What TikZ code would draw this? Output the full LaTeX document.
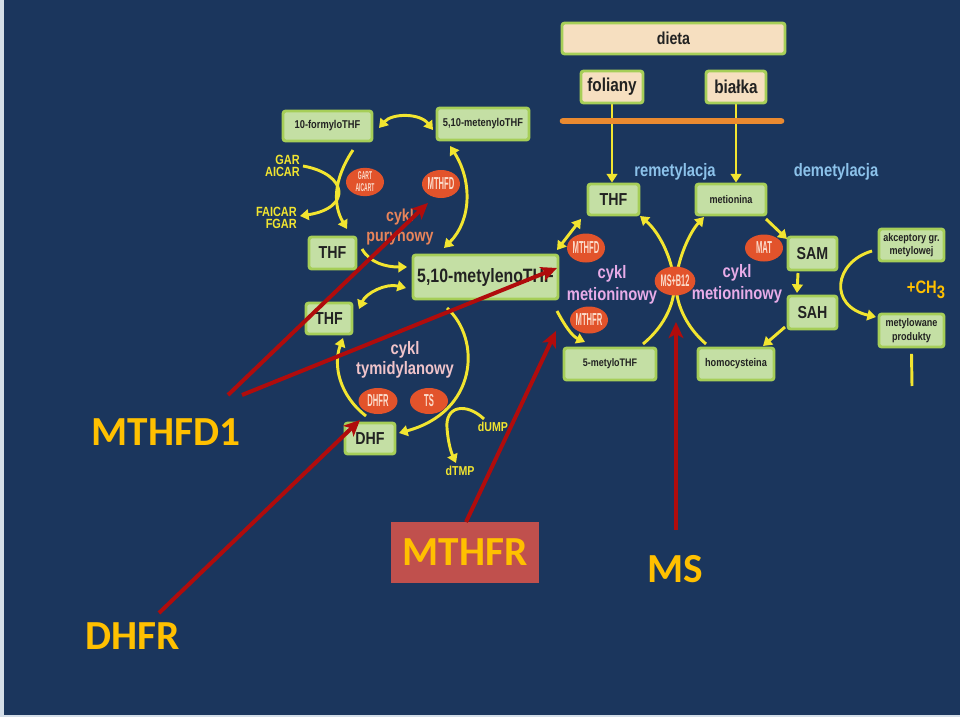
\documentclass[tikz,border=0pt]{standalone}
\usepackage{fontspec}
\setmainfont{Liberation Sans}
\newfontfamily\nar{Liberation Sans}[FakeStretch=0.82]
\newfontfamily\unar{Liberation Sans}[FakeStretch=0.44]
\newfontfamily\calib{Carlito}
\usetikzlibrary{arrows.meta,shapes.geometric}
\definecolor{bg}{HTML}{1B365D}
\definecolor{edgew}{HTML}{D4DEE8}
\definecolor{gfill}{HTML}{C4DFA4}
\definecolor{gedge}{HTML}{A6CE58}
\definecolor{beige}{HTML}{F6DFC0}
\definecolor{ylw}{HTML}{F2E530}
\definecolor{enz}{HTML}{E2532B}
\definecolor{enztxt}{HTML}{FBDCCB}
\definecolor{dred}{HTML}{B00C0C}
\definecolor{gold}{HTML}{FFC000}
\definecolor{lblue}{HTML}{8CC2EA}
\definecolor{lav}{HTML}{E8ACE8}
\definecolor{salmon}{HTML}{E8845A}
\definecolor{pinkt}{HTML}{F0C4CA}
\definecolor{orline}{HTML}{EA8A30}
\definecolor{boxred}{HTML}{C0504D}
\definecolor{dtext}{HTML}{222222}
\pgfdeclarelayer{back}
\pgfdeclarelayer{curves}
\pgfsetlayers{back,curves,main}
\tikzset{
  sz/.style n args={2}{minimum width=#1*0.75pt, minimum height=#2*0.75pt},
  nf/.style n args={2}{font=\nar\bfseries\fontsize{#1}{#2}\selectfont},
  uf/.style n args={2}{font=\unar\bfseries\fontsize{#1}{#2}\selectfont},
  gbox/.style={draw=gedge, line width=2.2pt, fill=gfill, rounded corners=2pt,
    inner sep=0pt, text=dtext, align=center},
  bbox/.style={gbox, fill=beige},
  enzyme/.style={ellipse, fill=enz, inner sep=0pt, text=enztxt, align=center},
  yline/.style={draw=ylw, line width=2.2pt},
  yarr/.style={yline, -{Triangle[width=8pt,length=6.5pt]}},
  ydbl/.style={yline, {Triangle[width=8pt,length=6.5pt]}-{Triangle[width=8pt,length=6.5pt]}},
  rarr/.style={draw=dred, line width=3pt, -{Stealth[length=12pt,width=11pt,inset=3pt]}},
  lbl/.style={inner sep=0pt, align=center},
  big/.style={inner sep=0pt, font=\calib\bfseries\fontsize{31}{33}\selectfont, text=gold}
}
\begin{document}
\begin{tikzpicture}[x=0.75pt,y=-0.75pt]
\useasboundingbox (0,0) rectangle (960,717);
\begin{pgfonlayer}{back}
\fill[bg] (0,0) rectangle (960,717);
\fill[edgew] (0,0) rectangle (4,717);
\fill[edgew] (0,715) rectangle (960,717);
\end{pgfonlayer}

% ---- diet part
\node[bbox, sz={223}{31}, nf={13}{15}] (dieta) at (673.5,38.5) {dieta};
\node[bbox, sz={62}{32}, nf={14}{16}] (foliany) at (612,87) {foliany};
\node[bbox, sz={60}{32}, nf={14}{16}] (bialka) at (736,87) {białka};
\coordinate (olA) at (563,121);
\coordinate (olB) at (781,121);
\draw[orline, line width=5pt, line cap=round] (olA) -- (olB);

% ---- right boxes
\node[gbox, sz={51}{31}, nf={13}{15}] (THFr) at (613.5,199.5) {THF};
\node[gbox, sz={70}{31}, nf={8.3}{10}] (metionina) at (731,199.5) {metionina};
\node[gbox, sz={49}{33}, nf={13}{15}] (SAM) at (812.5,253.5) {SAM};
\node[gbox, sz={49}{33}, nf={13}{15}] (SAH) at (812.5,312.5) {SAH};
\node[gbox, sz={65}{32}, nf={8.3}{10}] (akc) at (911.5,245) {akceptory gr.\\ metylowej};
\node[gbox, sz={65}{33}, nf={8.3}{10}] (mprod) at (911.5,330.5) {metylowane\\ produkty};
\node[gbox, sz={92}{32}, nf={8.2}{10}] (mTHF) at (610,364) {5-metyloTHF};
\node[gbox, sz={76}{32}, nf={8.4}{10}] (homo) at (736,364) {homocysteina};

% ---- left boxes
\node[gbox, sz={89}{30}, nf={8.5}{10}] (formyl) at (327.5,126) {10-formyloTHF};
\node[gbox, sz={92}{32}, nf={8.5}{10}] (metenyl) at (483,124) {5,10-metenyloTHF};
\node[gbox, sz={47}{32}, nf={13}{15}] (THFa) at (332.5,253) {THF};
\node[gbox, sz={46}{31}, nf={13}{15}] (THFb) at (329,318.5) {THF};
\node[gbox, sz={145}{44}, nf={14.5}{16}] (metylen) at (485.5,277) {5,10-metylenoTHF};
\node[gbox, sz={50}{31}, nf={13}{15}] (DHF) at (370,438.5) {DHF};

% ---- yellow connectors
\begin{pgfonlayer}{curves}
\draw[yarr] (foliany.south) -- (foliany.south |- THFr.north);
\draw[yarr] (bialka.south) -- (bialka.south |- metionina.north);
% left cycle
\coordinate (fa) at (379,128); \coordinate (fb) at (433,130);
\draw[ydbl] (fa) .. controls (392,113) and (420,113) .. (fb);
\coordinate (ma) at (450,146); \coordinate (mb) at (444,248);
\draw[ydbl] (ma) .. controls (472,180) and (472,220) .. (mb);
\coordinate (fta) at (353,150); \coordinate (ftb) at (347,229);
\draw[yarr] (fta) .. controls (333,180) and (333,205) .. (ftb);
\coordinate (gA) at (303,166); \coordinate (gB) at (300,216);
\draw[yarr] (gA) .. controls (348,174) and (352,208) .. (gB);
\coordinate (tma) at (362,249); \coordinate (tmb) at (407,267);
\draw[yarr] (tma) .. controls (370,263) and (386,267) .. (tmb);
\coordinate (mta) at (406,288); \coordinate (mtb) at (359,309);
\draw[ydbl] (mta) .. controls (386,283) and (366,293) .. (mtb);
\coordinate (tya) at (447,308); \coordinate (tyb) at (399,433);
\draw[yarr] (tya) .. controls (482,340) and (477,412) .. (tyb);
\coordinate (dha) at (366,416); \coordinate (dhb) at (343,338);
\draw[yarr] (dha) .. controls (339,395) and (333,365) .. (dhb);
\coordinate (dua) at (484,419); \coordinate (dub) at (456,463);
\draw[yarr] (dua) .. controls (466,402) and (445,406) .. (447,428) .. controls (448,442) and (451,452) .. (dub);
% right cycle
\coordinate (rta) at (581,219); \coordinate (rtb) at (557,250);
\draw[ydbl] (rta) -- (rtb);
\coordinate (rma) at (557,311); \coordinate (rmb) at (585,342);
\draw[yarr] (rma) .. controls (565,326) and (572,336) .. (rmb);
\coordinate (msa) at (643,344); \coordinate (msb) at (640,216);
\draw[yarr] (msa) .. controls (666,325) and (676,300) .. (674,281) .. controls (672,258) and (659,232) .. (msb);
\coordinate (msc) at (706,344); \coordinate (msd) at (704,217);
\draw[yarr] (msc) .. controls (684,325) and (675,300) .. (676,281) .. controls (678,258) and (690,232) .. (msd);
\coordinate (sa) at (766,219); \coordinate (sb) at (787,239);
\draw[yarr] (sa) -- (sb);
\coordinate (sc) at (798,273); \coordinate (sd) at (797,293);
\draw[yarr] (sc) -- (sd);
\coordinate (se) at (785,327); \coordinate (sf) at (763,346);
\draw[yarr] (se) -- (sf);
\coordinate (aa) at (872,251); \coordinate (ab) at (876,317);
\draw[yarr] (aa) .. controls (834,262) and (828,306) .. (ab);
\coordinate (vl) at (912,386);
\draw[yline] ([yshift=-4pt]mprod.south) -- (vl);
\end{pgfonlayer}

% ---- enzymes
\node[enzyme, sz={38}{27}, uf={8.5}{9}] (gart) at (365,182) {GART\\AICART};
\node[enzyme, sz={38}{28}, uf={13}{14}] (mthfdL) at (441,184) {MTHFD};
\node[enzyme, sz={39}{26}, uf={13}{14}] (dhfrE) at (378,401) {DHFR};
\node[enzyme, sz={38}{26}, uf={13}{14}] (ts) at (429,401) {TS};
\node[enzyme, sz={38}{29}, uf={13}{14}] (mthfdR) at (586,248) {MTHFD};
\node[enzyme, sz={38}{27}, uf={13}{14}] (mthfrR) at (589,320) {MTHFR};
\node[enzyme, sz={38}{29}, uf={12.5}{14}] (msb12) at (675,281) {MS+B12};
\node[enzyme, sz={38}{27}, uf={13}{14}] (mat) at (764,248) {MAT};

% ---- texts
\node[lbl, text=lblue, nf={13.5}{15}] (remet) at (675,172) {remetylacja};
\node[lbl, text=lblue, nf={13.5}{15}] (demet) at (836,172) {demetylacja};
\node[lbl, text=gold, nf={13.5}{15}] (ch3) at (926,290) {+CH\raisebox{-0.55ex}{3}};
\node[lbl, text=lav, nf={13.5}{16}] (cyklA) at (612,285) {cykl\\ metioninowy};
\node[lbl, text=lav, nf={13.5}{16}] (cyklB) at (737,284) {cykl\\ metioninowy};
\node[lbl, text=salmon, nf={13}{15}] (cyklP) at (400,227) {cykl\\ purynowy};
\node[lbl, text=pinkt, nf={13.5}{15}] (cyklT) at (405,360) {cykl\\ tymidylanowy};
\node[lbl, text=ylw, align=right, anchor=east, nf={10}{9}] (gar) at (300,166) {GAR\\AICAR};
\node[lbl, text=ylw, align=right, anchor=east, nf={10}{9}] (faicar) at (297,218) {FAICAR\\FGAR};
\node[lbl, text=ylw, nf={9.7}{11}] (dump) at (493,427) {dUMP};
\node[lbl, text=ylw, nf={9.7}{11}] (dtmp) at (460,471) {dTMP};

% ---- big labels
\node[big] (MTHFD1) at (166,432) {MTHFD1};
\node[big] (DHFRl) at (133,636) {DHFR};
\node[big, fill=boxred, minimum width=148*0.75pt, minimum height=61*0.75pt] (MTHFRl) at (465,552.5) {MTHFR};
\node[big] (MSl) at (675,569) {MS};

% ---- red arrows
\coordinate (r1s) at (228,395); \coordinate (r1t) at (428,203);
\coordinate (r2s) at (242,395); \coordinate (r2t) at (557,268);
\coordinate (r3s) at (159,613); \coordinate (r3t) at (360,420);
\coordinate (r4s) at (466,522); \coordinate (r4t) at (556,331);
\coordinate (r5s) at (676,530); \coordinate (r5t) at (676,322);
\draw[rarr] (r1s) -- (r1t);
\draw[rarr] (r2s) -- (r2t);
\draw[rarr] (r3s) -- (r3t);
\draw[rarr] (r4s) -- (r4t);
\draw[rarr] (r5s) -- (r5t);
\end{tikzpicture}
\end{document}
